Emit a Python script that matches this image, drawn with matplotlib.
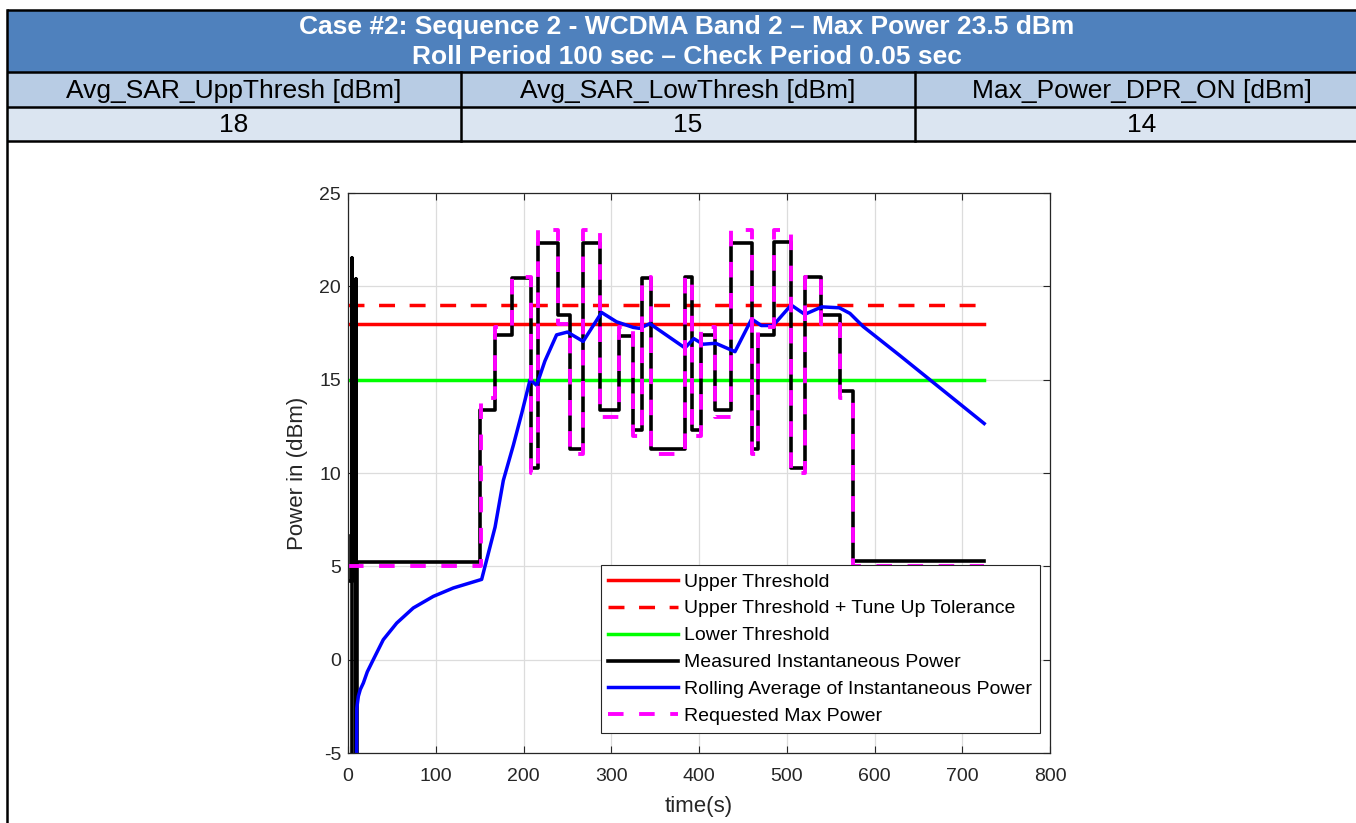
import matplotlib
matplotlib.use("Agg")
import matplotlib.pyplot as plt
from matplotlib.patches import Rectangle

plt.rcParams['font.family'] = ['Liberation Sans', 'DejaVu Sans']
plt.rcParams['axes.unicode_minus'] = False

W, H = 1356, 823

# table text
title_lines = ["Case #2: Sequence 2 - WCDMA Band 2 \u2013 Max Power 23.5 dBm",
               "Roll Period 100 sec \u2013 Check Period 0.05 sec"]
param_names = ["Avg_SAR_UppThresh [dBm]", "Avg_SAR_LowThresh [dBm]", "Max_Power_DPR_ON [dBm]"]
param_values = ["18", "15", "14"]

# threshold levels (dBm)
upper_thresh = 18
upper_tol = 19
lower_thresh = 15
t_end = 725

# measured instantaneous power (step, post)
meas_t = [0, 0.4, 4.0, 4.6, 9.0, 9.6, 10.5, 150.5, 167.5, 187, 208.5, 217, 239.6, 252.8,
          267.3, 287, 309, 324.4, 334.5, 345, 384.5, 391.5, 402, 418, 437, 460, 467.6,
          485.6, 505.3, 520.5, 539.5, 560.3, 575.6, 725]
meas_p = [6.6, 4.2, 21.5, -8, 20.4, -8, 5.25, 13.35, 17.4, 20.45, 10.27, 22.3, 18.48, 11.3,
          22.3, 13.4, 17.35, 12.3, 20.45, 11.3, 20.5, 12.3, 17.4, 13.4, 22.3, 11.3, 17.4,
          22.35, 10.27, 20.5, 18.48, 14.37, 5.3, 5.3]

# requested max power (step, post)
req_t = [0, 152, 167.5, 187, 208.5, 217, 239.6, 252.8, 267.3, 287, 309, 324.4, 334.5, 345,
         384.5, 391.5, 402, 418, 437, 460, 467.6, 485.6, 505.3, 520.5, 539.5, 560.3, 575.6, 725]
req_p = [5.0, 14.0, 17.8, 20.5, 10.0, 23.0, 18.0, 11.0, 23.0, 13.0, 17.8, 12.0, 20.5, 11.0,
         20.5, 12.0, 17.8, 13.0, 23.0, 11.0, 17.8, 23.0, 10.0, 20.5, 18.0, 14.0, 5.0, 5.0]

# rolling average
avg_t = [9.5, 10, 11.8, 14, 17.5, 22, 28.8, 40.2, 55.5, 74.4, 97.2, 120, 152.3, 167.6, 177,
         188.5, 198, 207.5, 215, 224.4, 237.7, 250, 268, 289, 306, 325, 332, 344, 384, 394,
         404.7, 419, 441, 460, 471, 484.5, 505, 520.5, 540, 560, 572, 587, 628.7, 725]
avg_p = [-8, -2.6, -1.96, -1.6, -1.25, -0.65, 0.0, 1.07, 1.96, 2.77, 3.39, 3.84, 4.3, 7.1, 9.6,
         11.5, 13.2, 15.0, 14.7, 16.0, 17.4, 17.55, 17.05, 18.6, 18.1, 17.8, 17.75, 18.0, 16.7,
         17.2, 16.9, 16.95, 16.5, 18.25, 17.9, 17.9, 19.0, 18.5, 18.9, 18.85, 18.55, 17.85,
         16.3, 12.65]

fig = plt.figure(figsize=(W / 100, H / 100), dpi=100)
fig.patch.set_facecolor('white')

# ---- table on a pixel-coordinate background axes
bg = fig.add_axes([0, 0, 1, 1])
bg.set_xlim(0, W)
bg.set_ylim(H, 0)
bg.axis('off')

col_x = [7, 461, 915, 1369]
row_y = [10, 72, 107, 141]
bg.add_patch(Rectangle((col_x[0], row_y[0]), col_x[-1] - col_x[0], row_y[1] - row_y[0],
                       facecolor='#4f81bd', edgecolor='none'))
bg.add_patch(Rectangle((col_x[0], row_y[1]), col_x[-1] - col_x[0], row_y[2] - row_y[1],
                       facecolor='#b8cce4', edgecolor='none'))
bg.add_patch(Rectangle((col_x[0], row_y[2]), col_x[-1] - col_x[0], row_y[3] - row_y[2],
                       facecolor='#dbe5f1', edgecolor='none'))
for y in row_y:
    bg.plot([col_x[0], col_x[-1]], [y, y], color='black', lw=1.8, solid_capstyle='butt')
for x in col_x[1:3]:
    bg.plot([x, x], [row_y[1], row_y[3]], color='black', lw=1.8)
bg.plot([col_x[0], col_x[0]], [row_y[0], H], color='black', lw=1.8)

bg.text(687, 27, title_lines[0], ha='center', va='center', color='white',
        fontsize=19, fontweight='bold')
bg.text(687, 57, title_lines[1], ha='center', va='center', color='white',
        fontsize=19, fontweight='bold')
for i in range(3):
    cx = (col_x[i] + col_x[i + 1]) / 2
    bg.text(cx, 91, param_names[i], ha='center', va='center', fontsize=19, color='black')
    bg.text(cx, 125, param_values[i], ha='center', va='center', fontsize=19, color='black')

# ---- main plot
ax = fig.add_axes([348 / W, (H - 753) / H, 702 / W, 560 / H])
ax.plot([0, t_end], [upper_thresh, upper_thresh], color='#ff0000', lw=2.5,
        label='Upper Threshold')
ax.plot([0, t_end], [upper_tol, upper_tol], color='#ff0000', lw=2.5,
        linestyle=(0, (4.6, 4.2)), label='Upper Threshold + Tune Up Tolerance')
ax.plot([0, t_end], [lower_thresh, lower_thresh], color='#00ff00', lw=2.5,
        label='Lower Threshold')
ax.plot(meas_t, meas_p, color='black', lw=2.6, drawstyle='steps-post',
        label='Measured Instantaneous Power')
ax.plot(avg_t, avg_p, color='#0000ff', lw=2.5, label='Rolling Average of Instantaneous Power')
ax.plot(req_t, req_p, color='#ff00ff', lw=2.8, drawstyle='steps-post',
        linestyle=(0, (4.0, 4.0)), label='Requested Max Power')

ax.set_xlim(0, 800)
ax.set_ylim(-5, 25)
ax.set_xticks(range(0, 801, 100))
ax.set_yticks(range(-5, 26, 5))
ax.grid(True, color='#dcdcdc', lw=0.9)
ax.set_axisbelow(True)
ax.tick_params(direction='in', top=True, right=True, labelsize=14, colors='#262626',
               length=5, width=0.8)
ax.tick_params(axis='x', pad=10.5)
ax.tick_params(axis='y', pad=5)
for s in ax.spines.values():
    s.set_color('#262626')
    s.set_linewidth(0.9)
ax.set_xlabel('time(s)', fontsize=16, color='#262626', labelpad=8)
ax.set_ylabel('Power in (dBm)', fontsize=16, color='#262626', labelpad=8)

leg = ax.legend(loc='lower right', bbox_to_anchor=(0.9858, 0.0357), fontsize=14,
                handlelength=3.6, labelspacing=0.48, borderpad=0.4, handletextpad=0.3,
                fancybox=False, framealpha=1, borderaxespad=0)
leg.get_frame().set_edgecolor('#262626')
leg.get_frame().set_linewidth(0.8)

fig.savefig('out.png', dpi=100)
